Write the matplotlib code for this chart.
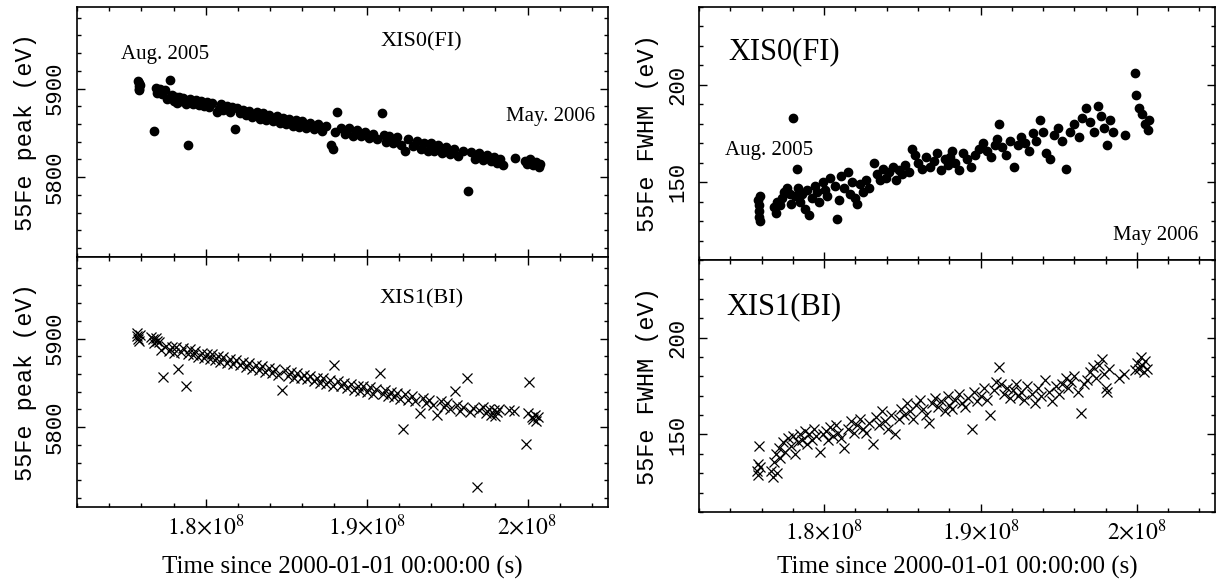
import matplotlib
matplotlib.use('Agg')
import numpy as np
import matplotlib.pyplot as plt
from matplotlib.ticker import MultipleLocator, FuncFormatter

plt.rcParams['mathtext.fontset'] = 'stix'

# XIS0 (FI): time in units of 1e8 s, 55Fe peak (eV), 55Fe FWHM (eV)
t0 = [1.7580, 1.7582, 1.7584, 1.7586, 1.7588, 1.7590, 1.7680, 1.7690, 1.7700, 1.7715,
      1.7730, 1.7745, 1.7760, 1.7780, 1.7790, 1.7804, 1.7815, 1.7824, 1.7835, 1.7845,
      1.7860, 1.7875, 1.7891, 1.7905, 1.7920, 1.7940, 1.7955, 1.7970, 1.7990, 1.8005,
      1.8020, 1.8040, 1.8068, 1.8080, 1.8095, 1.8110, 1.8130, 1.8150, 1.8165, 1.8179,
      1.8195, 1.8210, 1.8230, 1.8250, 1.8270, 1.8290, 1.8319, 1.8335, 1.8355, 1.8375,
      1.8395, 1.8415, 1.8440, 1.8460, 1.8480, 1.8500, 1.8520, 1.8545, 1.8560, 1.8580,
      1.8600, 1.8625, 1.8650, 1.8675, 1.8700, 1.8720, 1.8745, 1.8776, 1.8790, 1.8806,
      1.8816, 1.8840, 1.8865, 1.8890, 1.8915, 1.8940, 1.8965, 1.8990, 1.9015, 1.9040,
      1.9065, 1.9093, 1.9105, 1.9120, 1.9140, 1.9165, 1.9190, 1.9215, 1.9241, 1.9260,
      1.9285, 1.9310, 1.9335, 1.9355, 1.9380, 1.9400, 1.9420, 1.9445, 1.9470, 1.9495,
      1.9520, 1.9545, 1.9570, 1.9600, 1.9630, 1.9650, 1.9675, 1.9700, 1.9725, 1.9750,
      1.9770, 1.9790, 1.9810, 1.9830, 1.9845, 1.9924, 1.9985, 1.9995, 2.0015, 2.0035,
      2.0055, 2.0070, 2.0080]
peak0 = [5909, 5906, 5903, 5900, 5898, 5904, 5852, 5901, 5895, 5899,
         5894, 5898, 5888, 5910, 5893, 5886, 5891, 5884, 5890, 5886,
         5889, 5883, 5836, 5888, 5882, 5887, 5881, 5886, 5880, 5885,
         5879, 5884, 5873, 5877, 5882, 5876, 5880, 5873, 5879, 5854,
         5878, 5872, 5876, 5870, 5875, 5868, 5873, 5866, 5872, 5864,
         5870, 5863, 5869, 5861, 5867, 5860, 5866, 5858, 5864, 5857,
         5863, 5855, 5861, 5854, 5860, 5852, 5858, 5836, 5832, 5851,
         5874, 5856, 5849, 5855, 5847, 5853, 5846, 5851, 5844, 5849,
         5843, 5872, 5848, 5840, 5846, 5838, 5845, 5836, 5830, 5843,
         5835, 5841, 5832, 5839, 5830, 5838, 5829, 5836, 5827, 5834,
         5826, 5832, 5824, 5830, 5784, 5828, 5821, 5827, 5819, 5825,
         5818, 5823, 5816, 5821, 5814, 5822, 5818, 5815, 5821, 5814,
         5817, 5812, 5815]
fwhm0 = [141, 138, 135, 132, 130, 143, 137, 134, 140, 138,
         142, 145, 147, 144, 139, 183, 143, 157, 147, 140,
         144, 136, 146, 133, 142, 148, 145, 140, 150, 146,
         143, 152, 148, 131, 141, 153, 147, 155, 144, 150,
         142, 139, 149, 145, 151, 147, 160, 154, 151, 157,
         152, 155, 158, 151, 156, 154, 159, 155, 167, 164,
         160, 157, 163, 158, 161, 165, 156, 162, 159, 163,
         166, 160, 156, 165, 162, 158, 164, 167, 170, 166,
         163, 169, 172, 180, 168, 164, 171, 158, 169, 173,
         170, 166, 175, 171, 182, 176, 165, 162, 174, 178,
         171, 157, 176, 180, 173, 183, 188, 181, 176, 189,
         184, 178, 169, 182, 176, 174, 206, 195, 188, 185,
         180, 177, 182]

# XIS1 (BI)
t1 = [1.7570, 1.7575, 1.7580, 1.7585, 1.7590, 1.7660, 1.7670, 1.7680, 1.7690, 1.7700,
      1.7710, 1.7720, 1.7735, 1.7750, 1.7770, 1.7790, 1.7800, 1.7815, 1.7830, 1.7845,
      1.7860, 1.7875, 1.7890, 1.7905, 1.7920, 1.7935, 1.7950, 1.7975, 1.7990, 1.8010,
      1.8025, 1.8040, 1.8055, 1.8075, 1.8090, 1.8110, 1.8130, 1.8150, 1.8170, 1.8190,
      1.8210, 1.8230, 1.8250, 1.8270, 1.8290, 1.8310, 1.8330, 1.8350, 1.8370, 1.8390,
      1.8410, 1.8430, 1.8450, 1.8476, 1.8490, 1.8510, 1.8530, 1.8550, 1.8570, 1.8590,
      1.8610, 1.8630, 1.8650, 1.8670, 1.8690, 1.8710, 1.8730, 1.8750, 1.8770, 1.8790,
      1.8800, 1.8820, 1.8840, 1.8860, 1.8880, 1.8900, 1.8920, 1.8944, 1.8960, 1.8980,
      1.9000, 1.9020, 1.9040, 1.9060, 1.9085, 1.9100, 1.9117, 1.9130, 1.9150, 1.9170,
      1.9190, 1.9210, 1.9224, 1.9240, 1.9260, 1.9280, 1.9300, 1.9329, 1.9350, 1.9370,
      1.9390, 1.9410, 1.9439, 1.9460, 1.9480, 1.9500, 1.9520, 1.9549, 1.9560, 1.9580,
      1.9600, 1.9622, 1.9640, 1.9660, 1.9683, 1.9700, 1.9720, 1.9740, 1.9760, 1.9775,
      1.9790, 1.9800, 1.9810, 1.9820, 1.9885, 1.9915, 1.9988, 2.0000, 2.0012, 2.0025,
      2.0035, 2.0045, 2.0055, 2.0065]
peak1 = [5906, 5903, 5900, 5897, 5904, 5902, 5899, 5895, 5901, 5897,
         5896, 5887, 5857, 5892, 5886, 5891, 5884, 5890, 5866, 5885,
         5889, 5846, 5883, 5888, 5881, 5886, 5879, 5884, 5878, 5883,
         5877, 5882, 5876, 5880, 5874, 5879, 5872, 5877, 5871, 5876,
         5870, 5874, 5868, 5872, 5866, 5870, 5864, 5869, 5862, 5867,
         5861, 5866, 5859, 5842, 5864, 5858, 5862, 5856, 5861, 5855,
         5859, 5854, 5858, 5852, 5856, 5850, 5855, 5849, 5853, 5847,
         5870, 5852, 5846, 5850, 5844, 5849, 5842, 5847, 5841, 5846,
         5840, 5845, 5838, 5843, 5861, 5837, 5842, 5835, 5840, 5834,
         5839, 5832, 5798, 5837, 5831, 5835, 5829, 5816, 5833, 5827,
         5831, 5825, 5814, 5829, 5823, 5827, 5820, 5841, 5825, 5818,
         5823, 5855, 5817, 5822, 5732, 5819, 5823, 5816, 5821, 5814,
         5819, 5813, 5817, 5820, 5819, 5818, 5781, 5816, 5851, 5812,
         5809, 5814, 5807, 5811]
fwhm1 = [131, 135, 129, 144, 133, 131, 128, 136, 140, 130,
         143, 138, 146, 141, 148, 144, 149, 140, 146, 150,
         147, 152, 145, 150, 147, 153, 149, 141, 150, 152,
         147, 154, 149, 155, 151, 148, 143, 153, 157, 151,
         155, 158, 153, 151, 156, 145, 159, 155, 162, 157,
         153, 160, 150, 158, 163, 160, 166, 162, 158, 165,
         168, 163, 160, 156, 166, 169, 164, 167, 162, 170,
         165, 163, 168, 171, 166, 164, 169, 153, 172, 167,
         170, 174, 168, 160, 173, 177, 185, 176, 171, 174,
         169, 173, 176, 170, 172, 168, 175, 171, 166, 174,
         170, 178, 172, 167, 175, 171, 176, 179, 174, 177,
         180, 172, 161, 176, 178, 182, 185, 179, 186, 189,
         181, 174, 172, 184, 179, 181, 183, 187, 184, 190,
         186, 182, 188, 184]

xlim = (1.72e8, 2.05e8)
mono = 'Liberation Mono'
serif = 'Liberation Serif'

fig = plt.figure(figsize=(12.17, 5.81), dpi=100)

ax_lt = fig.add_axes([0.0633, 0.5577, 0.4363, 0.4303])
ax_lb = fig.add_axes([0.0633, 0.1274, 0.4363, 0.4303], sharex=ax_lt)
ax_rt = fig.add_axes([0.5744, 0.5525, 0.4240, 0.4355])
ax_rb = fig.add_axes([0.5744, 0.1188, 0.4240, 0.4337], sharex=ax_rt)

t0s = np.array(t0) * 1e8
t1s = np.array(t1) * 1e8

dot = dict(ls='none', marker='o', ms=6, color='black', mec='black')
cross = dict(ls='none', marker='x', ms=7, color='black', mew=0.9)

ax_lt.plot(t0s, peak0, **dot)
ax_lb.plot(t1s, peak1, **cross)
ax_rt.plot(t0s, fwhm0, **dot)
ax_rb.plot(t1s, fwhm1, **cross)


def xfmt(v, pos):
    return r'$%g{\times}10^{8}$' % (v / 1e8)


for ax, ylim, ymaj, ymin, lab in [(ax_lt, (5710, 5992), 100, 20, '55Fe peak (eV)'),
                                   (ax_lb, (5710, 5992), 100, 20, '55Fe peak (eV)'),
                                   (ax_rt, (110, 240), 50, 10, '55Fe FWHM (eV)'),
                                   (ax_rb, (110, 240), 50, 10, '55Fe FWHM (eV)')]:
    ax.set_xlim(*xlim)
    ax.set_ylim(*ylim)
    ax.xaxis.set_major_locator(MultipleLocator(1e7))
    ax.xaxis.set_minor_locator(MultipleLocator(2e6))
    ax.yaxis.set_major_locator(MultipleLocator(ymaj))
    ax.yaxis.set_minor_locator(MultipleLocator(ymin))
    ax.xaxis.set_major_formatter(FuncFormatter(xfmt))
    ax.tick_params(which='both', direction='in', top=True, right=True, width=1.0)
    ax.tick_params(which='major', length=6)
    ax.tick_params(which='minor', length=3.2)
    ax.tick_params(axis='y', labelrotation=90, labelsize=16, pad=8)
    ax.tick_params(axis='x', labelsize=17, pad=5)
    for lbl in ax.get_yticklabels():
        lbl.set_fontfamily(mono)
        lbl.set_va('center')
    for sp in ax.spines.values():
        sp.set_linewidth(1.2)
    ax.set_ylabel(lab, fontfamily=mono, fontsize=17, labelpad=6)

for ax in (ax_lt, ax_rt):
    ax.tick_params(axis='x', labelbottom=False)
ax_lb.set_xlabel('Time since 2000-01-01 00:00:00 (s)', fontfamily=serif, fontsize=18, labelpad=11)
ax_rb.set_xlabel('Time since 2000-01-01 00:00:00 (s)', fontfamily=serif, fontsize=18, labelpad=8)

# annotations
ax_lt.text(1.7745e8, 5938, 'Aug. 2005', family=serif, fontsize=15, ha='center', va='center')
ax_lt.text(1.934e8, 5953, 'XIS0(FI)', family=serif, fontsize=16, ha='center', va='center')
ax_lt.text(2.014e8, 5868, 'May. 2006', family=serif, fontsize=15, ha='center', va='center')
ax_lb.text(1.934e8, 5945, 'XIS1(BI)', family=serif, fontsize=16, ha='center', va='center')
ax_rt.text(1.7745e8, 217, 'XIS0(FI)', family=serif, fontsize=22, ha='center', va='center')
ax_rt.text(1.765e8, 166.5, 'Aug. 2005', family=serif, fontsize=15, ha='center', va='center')
ax_rt.text(2.012e8, 122.5, 'May 2006', family=serif, fontsize=15, ha='center', va='center')
ax_rb.text(1.7745e8, 216, 'XIS1(BI)', family=serif, fontsize=22, ha='center', va='center')

fig.savefig('out.png', dpi=100)
